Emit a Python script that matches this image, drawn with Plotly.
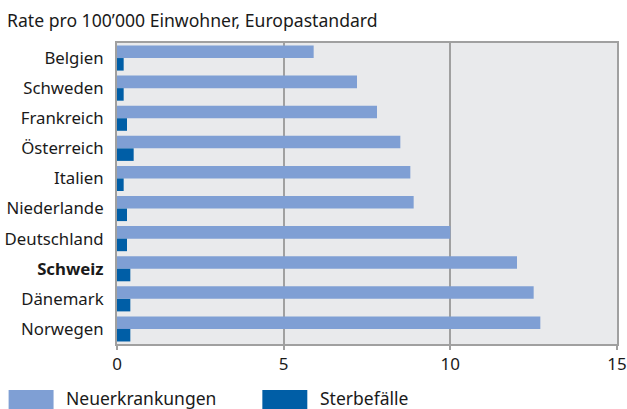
import plotly.graph_objects as go

# Länder (von oben nach unten)
laender = ["Belgien", "Schweden", "Frankreich", "Österreich", "Italien",
           "Niederlande", "Deutschland", "Schweiz", "Dänemark", "Norwegen"]
neuerkrankungen = [5.9, 7.2, 7.8, 8.5, 8.8, 8.9, 10.0, 12.0, 12.5, 12.7]
sterbefaelle = [0.2, 0.2, 0.3, 0.5, 0.2, 0.3, 0.3, 0.4, 0.4, 0.4]
x_ticks = [0, 5, 10, 15]
serien = ["Neuerkrankungen", "Sterbefälle"]

HELL = "#7f9fd4"
DUNKEL = "#005ea6"
GRAU = "#a0a0a0"
FONT = "Noto Sans"

# Schweiz hervorheben
tick_text = [f"<b>{l}</b>" if l == "Schweiz" else l for l in laender]

fig = go.Figure()
fig.add_trace(go.Bar(y=laender, x=neuerkrankungen, orientation="h",
                     name=serien[0], marker=dict(color=HELL, line_width=0)))
fig.add_trace(go.Bar(y=laender, x=sterbefaelle, orientation="h",
                     name=serien[1], marker=dict(color=DUNKEL, line_width=0)))

W, H = 627, 409
L, R, T, B = 116.5, 10, 43, 65
pw, ph = W - L - R, H - T - B

def px_x(x):
    return (x - L) / pw

def px_y(y):
    return (H - B - y) / ph

fig.update_layout(
    width=W, height=H,
    margin=dict(l=L, r=R, t=T, b=B, pad=0, autoexpand=False),
    paper_bgcolor="white",
    plot_bgcolor="#e9eaec",
    barmode="group",
    bargap=0.167,
    bargroupgap=0,
    showlegend=False,
    font=dict(family=FONT, size=16, color="#1a1a1a"),
    title=dict(text="Rate pro 100’000 Einwohner, Europastandard",
               x=7 / W, xanchor="left", xref="container",
               y=1 - 21 / H, yanchor="middle", yref="container",
               font=dict(family=FONT, size=17.6, color="#1a1a1a")),
)

fig.update_xaxes(
    range=[0, 15], tickvals=x_ticks, automargin=False,
    showgrid=True, gridcolor=GRAU, gridwidth=2,
    showline=True, linecolor=GRAU, linewidth=2, mirror=True,
    ticks="outside", ticklen=4, tickwidth=2, tickcolor=GRAU,
    tickfont=dict(size=17), zeroline=False,
)
fig.update_yaxes(
    autorange="reversed", categoryorder="array", categoryarray=laender,
    tickvals=laender, ticktext=tick_text, automargin=False,
    showgrid=False, showline=True, linecolor=GRAU, linewidth=2, mirror=True,
    ticks="", ticklabelstandoff=8, tickfont=dict(size=16.8),
)

# Legende unter dem Diagramm
sw_y0, sw_y1 = px_y(409), px_y(390)
legend_items = [(serien[0], HELL, 8, 53, 63), (serien[1], DUNKEL, 262, 307, 318)]
for name, color, x0, x1, tx in legend_items:
    fig.add_shape(type="rect", xref="paper", yref="paper",
                  x0=px_x(x0), x1=px_x(x1), y0=sw_y0, y1=sw_y1,
                  fillcolor=color, line_width=0)
    fig.add_annotation(text=name, xref="paper", yref="paper",
                       x=px_x(tx), y=px_y(398), xanchor="left", yanchor="middle",
                       showarrow=False, font=dict(size=17.5))

fig.write_html("out.html")
